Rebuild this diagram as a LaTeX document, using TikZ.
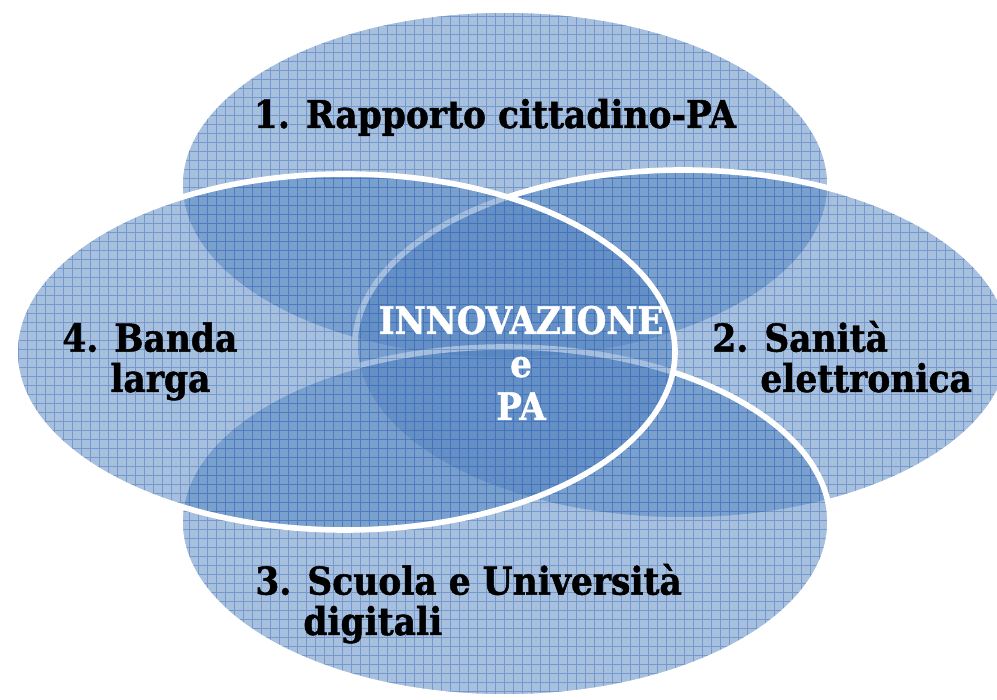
\documentclass[tikz,border=0pt]{standalone}
\usepackage{fontspec}
\setmainfont{DejaVu Serif}[FakeStretch=0.9, BoldFeatures={FakeBold=1.2}]
\usetikzlibrary{positioning}

\definecolor{vennblue}{RGB}{79,129,189}
\definecolor{gridblue}{RGB}{58,104,186}

\begin{document}
\begin{tikzpicture}[
x=0.2mm, y=0.2mm,
petal/.style={
	% semi transparent fill, overlaps get darker
	fill=vennblue, fill opacity=0.5},
gridline/.style={
	draw=gridblue, draw opacity=0.45, line width=0.55pt},
rim/.style={
	% white border of each set
	draw=white, line width=3.2pt},
setlabel/.style={
	font=\bfseries\fontsize{21.8}{23}\selectfont,
	text=black, inner sep=0pt, align=left},
core/.style={
	font=\bfseries\fontsize{21.5}{24.5}\selectfont,
	text=white, inner sep=0pt, align=center},
]
\useasboundingbox (0,0) rectangle (997,700);

% the four sets, drawn in order 1 (top), 2 (right), 3 (bottom), 4 (left)
\foreach \cx/\cy/\rx/\ry in {505/515/325/175, 683/355/328/175, 505/178/325/175, 345/348/330/178}{
	\begin{scope}
	\fill[petal] (\cx,\cy) ellipse [x radius=\rx, y radius=\ry];
	\clip (\cx,\cy) ellipse [x radius=\rx, y radius=\ry];
	\draw[gridline] (\cx-\rx,\cy-\ry) grid [step=9] (\cx+\rx,\cy+\ry);
	\end{scope}
	\draw[rim] (\cx,\cy) ellipse [x radius=\rx, y radius=\ry];
}

% labels (base = baseline of the last line)
\node (rapporto) [setlabel, anchor=base] at (495,572) {1. Rapporto cittadino-PA};
\node (sanita) [setlabel, anchor=base west] at (712,308) {2. Sanità\\\phantom{2.~}elettronica};
\node (scuola) [setlabel, anchor=base west] at (255,65) {3. Scuola e Università\\\phantom{3.~}digitali};
\node (banda) [setlabel, anchor=base west] at (62,308) {4. Banda\\\phantom{4.~}larga};
\node (innovazione) [core, anchor=base] at (521,280) {INNOVAZIONE\\e\\PA};

\end{tikzpicture}
\end{document}
